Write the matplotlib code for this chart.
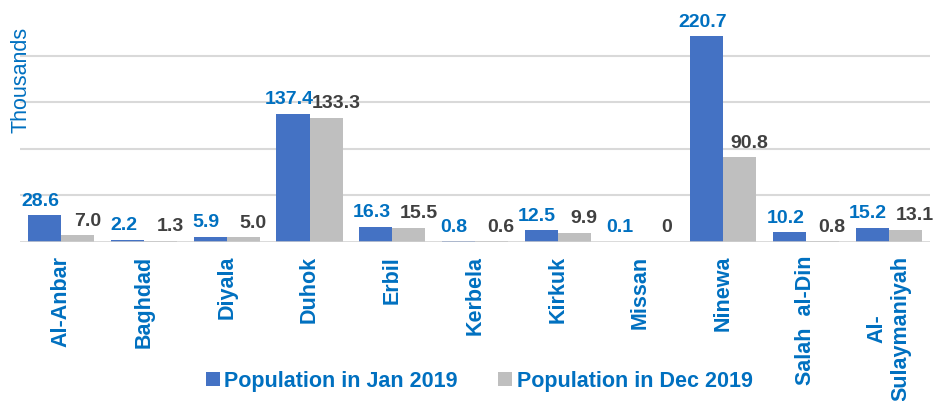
import numpy as np
import matplotlib
matplotlib.use("Agg")
import matplotlib.pyplot as plt
from matplotlib.patches import Patch

plt.rcParams['font.family'] = ['Liberation Sans', 'DejaVu Sans']

categories = ["Al-Anbar", "Baghdad", "Diyala", "Duhok", "Erbil", "Kerbela",
              "Kirkuk", "Missan", "Ninewa", "Salah  al-Din", "Al-\nSulaymaniyah"]
jan_2019 = [28.6, 2.2, 5.9, 137.4, 16.3, 0.8, 12.5, 0.1, 220.7, 10.2, 15.2]
dec_2019 = [7.0, 1.3, 5.0, 133.3, 15.5, 0.6, 9.9, 0.0, 90.8, 0.8, 13.1]
series_names = ["Population in Jan 2019", "Population in Dec 2019"]

BLUE = "#4472C4"
GRAY = "#BFBFBF"
TXT_BLUE = "#0070C0"
TXT_DARK = "#404040"

fig = plt.figure(figsize=(9.44, 4.01), dpi=100)
ax = fig.add_axes([20/944, 1-242/401, 910/944, 233/401])

x = np.arange(len(categories))
w = 0.4
b1 = ax.bar(x - w/2, jan_2019, width=w, color=BLUE, zorder=3)
b2 = ax.bar(x + w/2, dec_2019, width=w, color=GRAY, zorder=3)

def fmt(v):
    return "0" if v == 0 else f"{v:.1f}"

for rect, v in zip(b1, jan_2019):
    ax.annotate(fmt(v), (rect.get_x() + rect.get_width()/2, v),
                xytext=(-3, 4), textcoords="offset points",
                ha="center", va="bottom", fontsize=14, fontweight="bold",
                color=TXT_BLUE, zorder=4)
for rect, v in zip(b2, dec_2019):
    ax.annotate(fmt(v), (rect.get_x() + rect.get_width()/2, v),
                xytext=(7, 4), textcoords="offset points",
                ha="center", va="bottom", fontsize=14, fontweight="bold",
                color=TXT_DARK, zorder=4)

ax.set_xlim(-0.5, len(categories) - 0.5)
ax.set_ylim(0, 250)
ax.set_yticks([50, 100, 150, 200])
ax.yaxis.grid(True, color="#D9D9D9", linewidth=1.5, zorder=0)
ax.axhline(0, color="#D0D0D0", linewidth=1.8, zorder=5)
ax.tick_params(axis="y", length=0, labelleft=False)
ax.tick_params(axis="x", length=0, pad=10)
ax.set_xticks(x)
ax.set_xticklabels(categories, rotation=90, fontsize=15.5, fontweight="bold",
                   color=TXT_BLUE, multialignment="center")
for s in ax.spines.values():
    s.set_visible(False)

fig.text(21/944, 1-80/401, "Thousands", rotation=90, ha="center", va="center",
         fontsize=15.5, color=TXT_BLUE)

handles = [Patch(facecolor=BLUE, edgecolor="none"), Patch(facecolor=GRAY, edgecolor="none")]
leg = fig.legend(handles, series_names, loc="center", bbox_to_anchor=(479/944, 1-381/401),
                 ncol=2, frameon=False, handlelength=0.65, handleheight=0.65,
                 handletextpad=0.2, columnspacing=1.9,
                 prop={"size": 15.5, "weight": "bold"})
for t in leg.get_texts():
    t.set_color(TXT_BLUE)

fig.savefig("out.png", dpi=100)
